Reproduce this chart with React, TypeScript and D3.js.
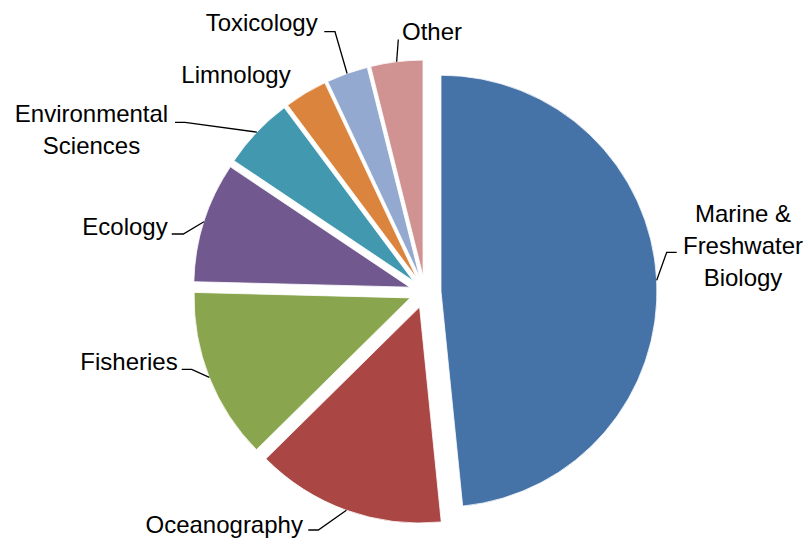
import React from "react";
import * as d3 from "d3";

const categories = [
  "Marine & Freshwater Biology",
  "Oceanography",
  "Fisheries",
  "Ecology",
  "Environmental Sciences",
  "Limnology",
  "Toxicology",
  "Other",
];
const values = [48.4, 14.2, 12.8, 9.0, 5.4, 3.2, 3.1, 3.9];
const colors = ["#4572A7", "#AA4643", "#89A54E", "#71588F", "#4198AF", "#DB843D", "#93A9CF", "#D19392"];
const labelLines = [
  ["Marine &", "Freshwater", "Biology"],
  ["Oceanography"],
  ["Fisheries"],
  ["Ecology"],
  ["Environmental", "Sciences"],
  ["Limnology"],
  ["Toxicology"],
  ["Other"],
];

// Label placement (layout only): text centre x, first baseline y,
// leader attach point (ax, ay) and elbow x (ex) before going to the arc.
const labelLayout = [
  { x: 743, y: 222, ax: 676.7, ay: 252.3, ex: 666.7, leader: true },
  { x: 224.2, y: 533, ax: 308.3, ay: 530, ex: 318.3, leader: true },
  { x: 129, y: 370, ax: 181.7, ay: 369.3, ex: 191.7, leader: true },
  { x: 125, y: 234.5, ax: 171.7, ay: 234, ex: 183.3, leader: true },
  { x: 91.5, y: 122.3, ax: 175, ay: 122.3, ex: 185, leader: true },
  { x: 236, y: 83, ax: 0, ay: 0, ex: 0, leader: false },
  { x: 261.7, y: 30.5, ax: 324.3, ay: 31.7, ex: 335, leader: true },
  { x: 432, y: 40, ax: 398.3, ay: 39.5, ex: 398.3, leader: true },
];

const W = 806;
const H = 538;
const CX = 425;
const CY = 292;
const R = 216;
const EXPLODE = 16;
const LINE_H = 32;

export default function App() {
  const pie = d3
    .pie<number>()
    .sort(null)
    .startAngle(0)
    .endAngle(2 * Math.PI)
    .value((d) => d);
  const arcs = pie(values);
  const arc = d3.arc<d3.PieArcDatum<number>>().innerRadius(0).outerRadius(R);

  return (
    <svg
      width={W}
      height={H}
      style={{ position: "absolute", left: 0, top: 0, background: "#fff" }}
      fontFamily="'Liberation Sans', Arial, sans-serif"
      fontSize={24}
    >
      <g transform={`translate(${CX},${CY})`}>
        {arcs.map((a, i) => {
          const mid = (a.startAngle + a.endAngle) / 2;
          const ox = Math.sin(mid) * EXPLODE;
          const oy = -Math.cos(mid) * EXPLODE;
          return (
            <path
              key={categories[i]}
              d={arc(a) || ""}
              transform={`translate(${ox},${oy})`}
              fill={colors[i]}
              stroke="#fff"
              strokeWidth={0.8}
            />
          );
        })}
      </g>
      {arcs.map((a, i) => {
        const L = labelLayout[i];
        if (!L.leader) return null;
        const mid = (a.startAngle + a.endAngle) / 2;
        const px = CX + Math.sin(mid) * (EXPLODE + R);
        const py = CY - Math.cos(mid) * (EXPLODE + R);
        const pts: [number, number][] = [
          [L.ax, L.ay],
          [L.ex, L.ay],
          [px, py],
        ];
        return (
          <path
            key={"l" + i}
            d={d3.line()(pts) || ""}
            fill="none"
            stroke="#000"
            strokeWidth={1.3}
          />
        );
      })}
      {labelLines.map((lines, i) => {
        const L = labelLayout[i];
        return (
          <text key={"t" + i} x={L.x} y={L.y} textAnchor="middle" fill="#000">
            {lines.map((ln, j) => (
              <tspan key={j} x={L.x} y={L.y + j * LINE_H}>
                {ln}
              </tspan>
            ))}
          </text>
        );
      })}
    </svg>
  );
}
